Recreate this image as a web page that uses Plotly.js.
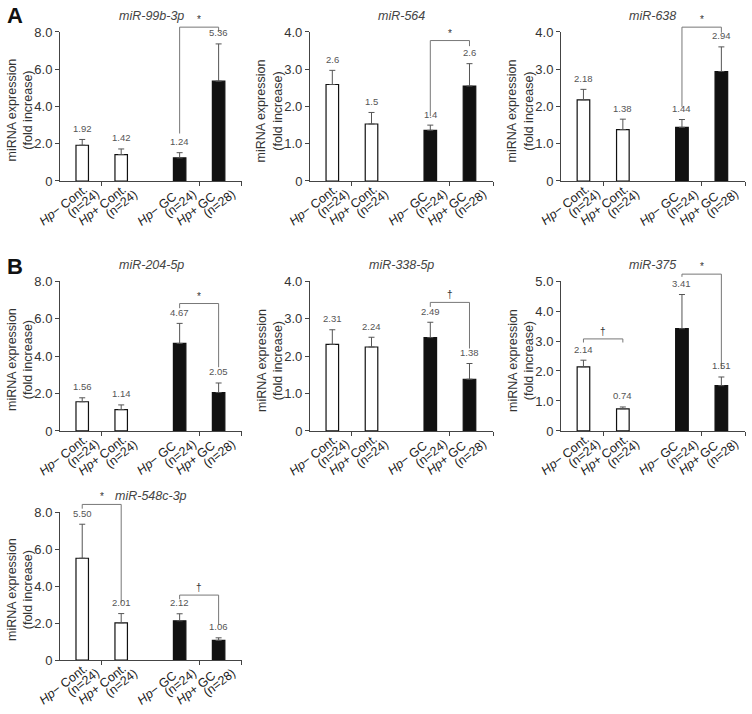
<!DOCTYPE html>
<html>
<head>
<meta charset="utf-8">
<script src="https://cdn.plot.ly/plotly-3.0.1.min.js"></script>
<style>
  html, body { margin: 0; padding: 0; background: #fff; }
  #chart { width: 752px; height: 714px; }
</style>
</head>
<body>
<div id="chart"></div>
<script>
// group labels under the bars: name line and sample size line
const groupNames = ['<i>Hp</i>\u2212 Cont.', '<i>Hp</i>+ Cont.', '<i>Hp</i>\u2212 GC', '<i>Hp</i>+ GC'];
const groupSizes = ['(n=24)', '(n=24)', '(n=24)', '(n=28)'];

const mirnas = ['miR-99b-3p', 'miR-564', 'miR-638', 'miR-204-5p', 'miR-338-5p', 'miR-375', 'miR-548c-3p'];

// one row per panel, in the order of mirnas
const barMeans = [
    [1.92, 1.42, 1.24, 5.36],
    [2.59, 1.53, 1.36, 2.55],
    [2.18, 1.38, 1.44, 2.94],
    [1.56, 1.14, 4.67, 2.05],
    [2.31, 2.24, 2.49, 1.38],
    [2.14, 0.74, 3.41, 1.51],
    [5.50, 2.01, 2.12, 1.06]
];

const barErrors = [
    [0.31, 0.30, 0.28, 2.00],
    [0.38, 0.31, 0.14, 0.60],
    [0.28, 0.28, 0.21, 0.66],
    [0.21, 0.25, 1.07, 0.51],
    [0.39, 0.26, 0.41, 0.42],
    [0.22, 0.06, 1.14, 0.29],
    [1.84, 0.50, 0.38, 0.14]
];

const barLabels = [
    ['1.92', '1.42', '1.24', '5.36'],
    ['2.6', '1.5', '1.4', '2.6'],
    ['2.18', '1.38', '1.44', '2.94'],
    ['1.56', '1.14', '4.67', '2.05'],
    ['2.31', '2.24', '2.49', '1.38'],
    ['2.14', '0.74', '3.41', '1.51'],
    ['5.50', '2.01', '2.12', '1.06']
];

const yMax = [8, 4, 4, 8, 4, 5, 8];

// [panel, from bar, to bar, bracket height, left leg end, right leg end, mark]
const brackets = [
    [0, 2, 3, 8.26, 2.55, 8.00, '*'],
    [1, 2, 3, 3.77, 1.74, 3.62, '*'],
    [2, 2, 3, 4.13, 1.99, 3.98, '*'],
    [3, 2, 3, 6.80, 6.55, 3.40, '*'],
    [4, 2, 3, 3.43, 3.31, 2.20, '\u2020'],
    [5, 0, 1, 3.07, 2.95, 2.95, '\u2020'],
    [5, 2, 3, 5.23, 5.14, 2.07, '*'],
    [6, 0, 1, 8.41, 8.18, 3.10, '*'],
    [6, 2, 3, 3.51, 3.28, 1.90, '\u2020']
];

const FONT = 'Liberation Sans, Arial, sans-serif';
const barX = [0, 1, 2.5, 3.5];
const barFill = ['#ffffff', '#ffffff', '#111111', '#111111'];
const colDom = [[0.0798, 0.3218], [0.4122, 0.6556], [0.746, 0.9907]];
const rowDom = [[0.7465, 0.9552], [0.3964, 0.6064], [0.0756, 0.2829]];
const LABEL_ANGLE = -38;

const traces = [];
const annotations = [];
const shapes = [];
const layout = {
    width: 752,
    height: 714,
    margin: { l: 0, r: 0, t: 0, b: 0 },
    paper_bgcolor: '#fff',
    plot_bgcolor: '#fff',
    showlegend: false,
    font: { family: FONT, color: '#222' }
};

mirnas.forEach((name, p) => {
    const n = p === 0 ? '' : String(p + 1);
    const xa = 'x' + n, ya = 'y' + n;
    const row = Math.floor(p / 3), col = p % 3;

    traces.push({
        type: 'bar',
        x: barX,
        y: barMeans[p],
        width: 0.32,
        xaxis: xa,
        yaxis: ya,
        marker: { color: barFill, line: { color: '#111', width: 1.2 } },
        error_y: {
            type: 'data', symmetric: false,
            array: barErrors[p], arrayminus: [0, 0, 0, 0],
            color: '#555', thickness: 1, width: 3
        },
        hoverinfo: 'none'
    });

    const step = yMax[p] === 5 ? 1 : yMax[p] / 4;
    const tv = [];
    for (let v = 0; v <= yMax[p] + 1e-9; v += step) tv.push(v);

    layout['xaxis' + n] = {
        domain: colDom[col],
        anchor: ya,
        range: [-0.57, 4.1],
        showticklabels: false,
        ticks: '',
        minor: { tickvals: [0.5, 3, 4.1], ticks: 'outside', ticklen: 4, tickcolor: '#444', tickwidth: 1 },
        showline: true, linecolor: '#444', linewidth: 1,
        showgrid: false, zeroline: false, fixedrange: true
    };
    layout['yaxis' + n] = {
        domain: rowDom[row],
        anchor: xa,
        range: [0, yMax[p]],
        tickvals: tv,
        ticktext: tv.map(v => v === 0 ? '0' : v.toFixed(1)),
        ticks: 'outside', ticklen: 4, tickcolor: '#444',
        tickfont: { size: 13, color: '#333' },
        showline: true, linecolor: '#444', linewidth: 1,
        showgrid: false, zeroline: false, fixedrange: true
    };

    // y axis title
    annotations.push({
        xref: xa + ' domain', yref: ya + ' domain', x: 0, y: 0.5, xshift: -40, yshift: -4,
        xanchor: 'center', yanchor: 'middle', textangle: -90,
        text: 'miRNA expression<br>(fold increase)', showarrow: false,
        font: { size: 12.5, color: '#333' }
    });

    // panel title
    annotations.push({
        xref: xa + ' domain', yref: ya + ' domain', x: 0.5, y: 1, yshift: 16, yanchor: 'middle',
        text: '<i>' + name + '</i>', showarrow: false,
        font: { size: 12.5, color: '#444' }
    });

    barX.forEach((x, i) => {
        // value label above the error cap
        annotations.push({
            xref: xa, yref: ya, x: x, y: barMeans[p][i] + barErrors[p][i],
            yshift: 11, text: barLabels[p][i], showarrow: false,
            font: { size: 9.5, color: '#555' }
        });
        // slanted group label, two lines
        annotations.push({
            xref: xa, yref: ya, x: x, y: 0, xanchor: 'left', yanchor: 'bottom',
            xshift: -48, yshift: -50, textangle: LABEL_ANGLE,
            text: groupNames[i], showarrow: false,
            font: { size: 12.5, color: '#222' }
        });
        annotations.push({
            xref: xa, yref: ya, x: x, y: 0, xanchor: 'left', yanchor: 'bottom',
            xshift: -21, yshift: -42, textangle: LABEL_ANGLE,
            text: groupSizes[i], showarrow: false,
            font: { size: 12.5, color: '#222' }
        });
    });
});

// significance brackets
brackets.forEach(([p, a, b, h, la, lb, mark]) => {
    const n = p === 0 ? '' : String(p + 1);
    const xa = 'x' + n, yd = 'y' + n + ' domain';
    const f = v => v / yMax[p];
    const ln = { color: '#777', width: 1 };
    shapes.push({ type: 'line', xref: xa, yref: yd, x0: barX[a], x1: barX[a], y0: f(la), y1: f(h), line: ln });
    shapes.push({ type: 'line', xref: xa, yref: yd, x0: barX[a], x1: barX[b], y0: f(h), y1: f(h), line: ln });
    shapes.push({ type: 'line', xref: xa, yref: yd, x0: barX[b], x1: barX[b], y0: f(h), y1: f(lb), line: ln });
    annotations.push({
        xref: xa, yref: yd, x: (barX[a] + barX[b]) / 2, y: f(h),
        yanchor: 'bottom', text: mark, showarrow: false,
        font: { size: 10, color: '#333' }
    });
});

// panel letters
annotations.push({ xref: 'paper', yref: 'paper', x: 0.006, y: 1 - 15 / 714, xanchor: 'left', yanchor: 'middle',
    text: '<b>A</b>', showarrow: false, font: { size: 22, color: '#111' } });
annotations.push({ xref: 'paper', yref: 'paper', x: 0.006, y: 1 - 266 / 714, xanchor: 'left', yanchor: 'middle',
    text: '<b>B</b>', showarrow: false, font: { size: 22, color: '#111' } });

layout.annotations = annotations;
layout.shapes = shapes;

Plotly.newPlot('chart', traces, layout, { displayModeBar: false, staticPlot: true });
</script>
</body>
</html>
